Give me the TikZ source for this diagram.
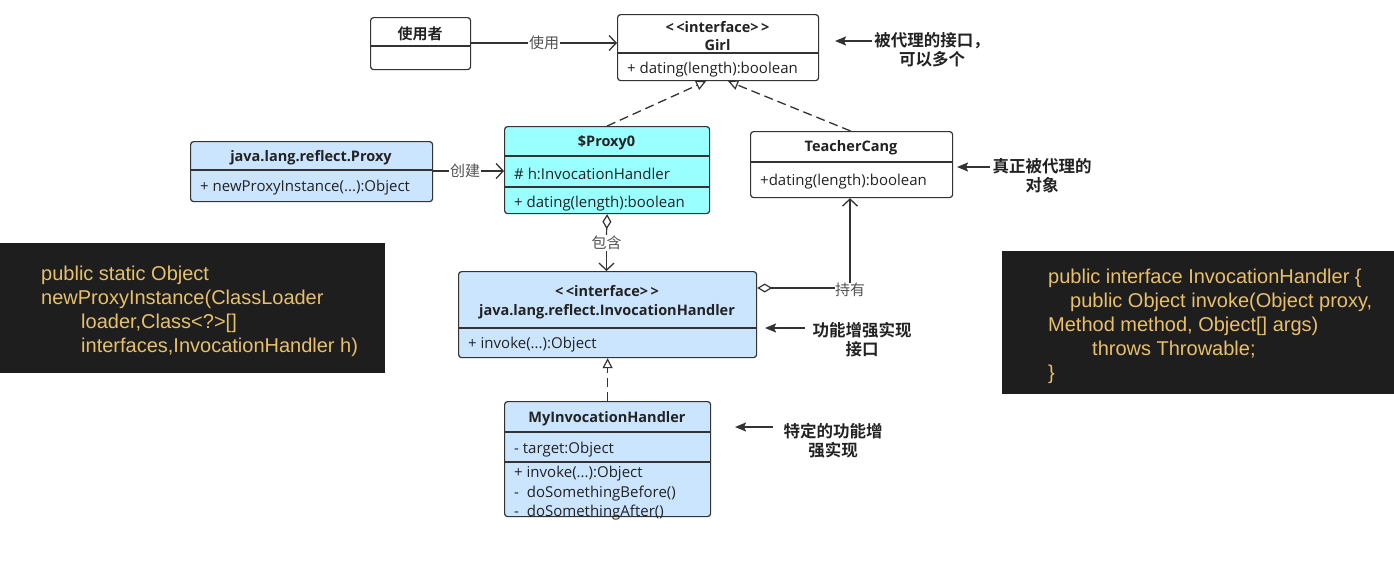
\documentclass[tikz,border=0pt]{standalone}
\usepackage{fontspec}
\setmainfont{Open Sans}
\newfontfamily\cjk{Noto Sans CJK SC}[BoldFont={Noto Sans CJK SC Bold}]
\newfontfamily\codefont{Liberation Sans}
\usetikzlibrary{positioning, arrows.meta, calc}
\definecolor{umlline}{HTML}{333333}
\definecolor{umltext}{HTML}{222222}
\definecolor{clsblue}{HTML}{CCE5FF}
\definecolor{clscyan}{HTML}{99FFFF}
\definecolor{codebg}{HTML}{1E1E1E}
\definecolor{codefg}{HTML}{E8BF6A}

\begin{document}
\begin{tikzpicture}[
    x=1pt, y=-1pt,
    every node/.style={font=\fontsize{15}{19}\selectfont, text=umltext},
    umlbox/.style={draw=umlline, line width=1.2pt, rounded corners=3pt, fill=#1,
                   anchor=north west, inner sep=0pt},
    umlbox/.default=white,
    divider/.style={draw=umlline, line width=1.2pt},
    clstitle/.style={font=\fontsize{14.5}{18}\selectfont\bfseries, align=center, yshift=-2pt},
    clsop/.style={anchor=west, align=left, inner sep=1pt, yshift=-2.5pt},
    linklabel/.style={font=\fontsize{15}{16}\selectfont\cjk, text=umlline!85, fill=white, inner sep=1pt},
    note/.style={font=\fontsize{16.5}{19}\selectfont\cjk\bfseries, align=center},
    uses/.style={draw=umlline, line width=1.2pt, -{Straight Barb[length=7pt, width=15pt, line width=1.3pt]}},
    realize/.style={draw=umlline, line width=1.3pt, dash pattern=on 9pt off 5pt,
                    -{Triangle[open, length=10pt, width=10pt, fill=white, line width=1.2pt]}},
    aggregate/.style={draw=umlline, line width=1.2pt, {Diamond[open, length=15pt, width=9pt, fill=white, line width=1.2pt]}-},
    notearrow/.style={draw=umlline, line width=1.6pt, -{Stealth[length=11pt, width=9pt, inset=2pt]}},
    codebox/.style={fill=codebg, anchor=north west, inner sep=0pt},
    codetext/.style={font=\fontsize{20}{24}\selectfont\codefont, text=codefg, align=left, anchor=north west, inner sep=0pt},
  ]
  \useasboundingbox (0,0) rectangle (1394,563);

  % classes
  \node[umlbox, minimum width=100pt, minimum height=52pt] (user) at (370,17) {};
  \node[clstitle, font=\fontsize{15}{18}\selectfont] (user-name) at (420,32) {\cjk\bfseries 使用者};
  \draw[divider] (user.west |- 0,46) -- (user.east |- 0,46);

  \node[umlbox, minimum width=201pt, minimum height=66pt] (girl) at (617,14) {};
  \node[clstitle] (girl-name) at (717.5,34) {{<}\,{<}interface{>}\,{>}\\Girl};
  \draw[divider] (girl.west |- 0,53) -- (girl.east |- 0,53);
  \node[clsop] (girl-op) at (626,67) {+ dating(length):boolean};

  \node[umlbox=clsblue, minimum width=242pt, minimum height=60pt] (proxycls) at (190,141) {};
  \node[clstitle] (proxycls-name) at (311,156) {java.lang.reflect.Proxy};
  \draw[divider] (proxycls.west |- 0,170) -- (proxycls.east |- 0,170);
  \node[clsop] (proxycls-op) at (199,185) {+ newProxyInstance(...):Object};

  \node[umlbox=clscyan, minimum width=205pt, minimum height=87pt] (proxy0) at (504,126) {};
  \node[clstitle] (proxy0-name) at (606.5,141) {\$Proxy0};
  \draw[divider] (proxy0.west |- 0,156) -- (proxy0.east |- 0,156);
  \node[clsop] (proxy0-attr) at (513,171) {\# h:InvocationHandler};
  \draw[divider] (proxy0.west |- 0,187) -- (proxy0.east |- 0,187);
  \node[clsop] (proxy0-op) at (513,201) {+ dating(length):boolean};

  \node[umlbox, minimum width=202pt, minimum height=66pt] (teacher) at (750,131) {};
  \node[clstitle] (teacher-name) at (851,146) {TeacherCang};
  \draw[divider] (teacher.west |- 0,162) -- (teacher.east |- 0,162);
  \node[clsop] (teacher-op) at (759,179) {+dating(length):boolean};

  \node[umlbox=clsblue, minimum width=298pt, minimum height=86pt] (handler) at (458,271) {};
  \node[clstitle, font=\fontsize{14.5}{19}\selectfont\bfseries] (handler-name) at (607,300.5)
    {{<}\,{<}interface{>}\,{>}\\java.lang.reflect.InvocationHandler};
  \draw[divider] (handler.west |- 0,328) -- (handler.east |- 0,328);
  \node[clsop] (handler-op) at (467,342) {+ invoke(...):Object};

  \node[umlbox=clsblue, minimum width=206pt, minimum height=115pt] (myhandler) at (504,401) {};
  \node[clstitle] (myhandler-name) at (607,417) {MyInvocationHandler};
  \draw[divider] (myhandler.west |- 0,432) -- (myhandler.east |- 0,432);
  \node[clsop] (myhandler-attr) at (513,447) {- target:Object};
  \draw[divider] (myhandler.west |- 0,462) -- (myhandler.east |- 0,462);
  \node[clsop, font=\fontsize{15}{19.5}\selectfont] (myhandler-ops) at (513,491)
    {+ invoke(...):Object\\-\ \ doSomethingBefore()\\-\ \ doSomethingAfter()};

  % relations
  \draw[uses] (user.east |- 0,43) -- node[linklabel] (use-label) {使用} (girl.west |- 0,43);
  \draw[uses] (proxycls.east |- 0,171) -- node[linklabel, pos=0.45] (create-label) {创建} (proxy0.west |- 0,171);
  \draw[realize] (proxy0.north) -- ([xshift=-12pt]girl.south);
  \draw[realize] ([xshift=-1pt]teacher.north) -- ([xshift=10pt]girl.south);
  \node[linklabel] (contain-label) at (606.5,243) {包含};
  \draw[aggregate] (proxy0.south) -- (contain-label.north);
  \draw[uses] (contain-label.south) -- (contain-label.south |- handler.north);
  \node[linklabel, inner sep=0pt] (hold-label) at (850,290) {持有};
  \draw[aggregate] (handler.east |- 0,288) -- (hold-label.west |- 0,288);
  \draw[uses] (hold-label.north) -- (hold-label.north |- teacher.south);
  \draw[realize] (myhandler.north) -- (handler.south);

  % notes
  \node[note] (girl-note) at (932,50) {被代理的接口，\\可以多个};
  \coordinate (girl-note-from) at (872,41);
  \coordinate (girl-note-to) at (835,41);
  \draw[notearrow] (girl-note-from) -- (girl-note-to);

  \node[note] (teacher-note) at (1042,176) {真正被代理的\\对象};
  \coordinate (teacher-note-from) at (990,167);
  \coordinate (teacher-note-to) at (957,167);
  \draw[notearrow] (teacher-note-from) -- (teacher-note-to);

  \node[note] (handler-note) at (862,340) {功能增强实现\\接口};
  \coordinate (handler-note-from) at (805,328);
  \coordinate (handler-note-to) at (765,328);
  \draw[notearrow] (handler-note-from) -- (handler-note-to);

  \node[note] (myhandler-note) at (833,441) {特定的功能增\\强实现};
  \coordinate (myhandler-note-from) at (773,427);
  \coordinate (myhandler-note-to) at (735,427);
  \draw[notearrow] (myhandler-note-from) -- (myhandler-note-to);

  % code boxes
  \node[codebox, minimum width=385pt, minimum height=130pt] (leftcode) at (0,243) {};
  \node[codetext] (leftcode-text) at (41,266)
    {public static Object\\newProxyInstance(ClassLoader\\\hspace*{40pt}loader,Class<?>[]\\\hspace*{40pt}interfaces,InvocationHandler h)};

  \node[codebox, minimum width=392pt, minimum height=143pt] (rightcode) at (1002,251) {};
  \node[codetext] (rightcode-text) at (1048,269)
    {public interface InvocationHandler \{\\\hspace*{22pt}public Object invoke(Object proxy,\\Method method, Object[] args)\\\hspace*{44pt}throws Throwable;\\\}};
\end{tikzpicture}
\end{document}
